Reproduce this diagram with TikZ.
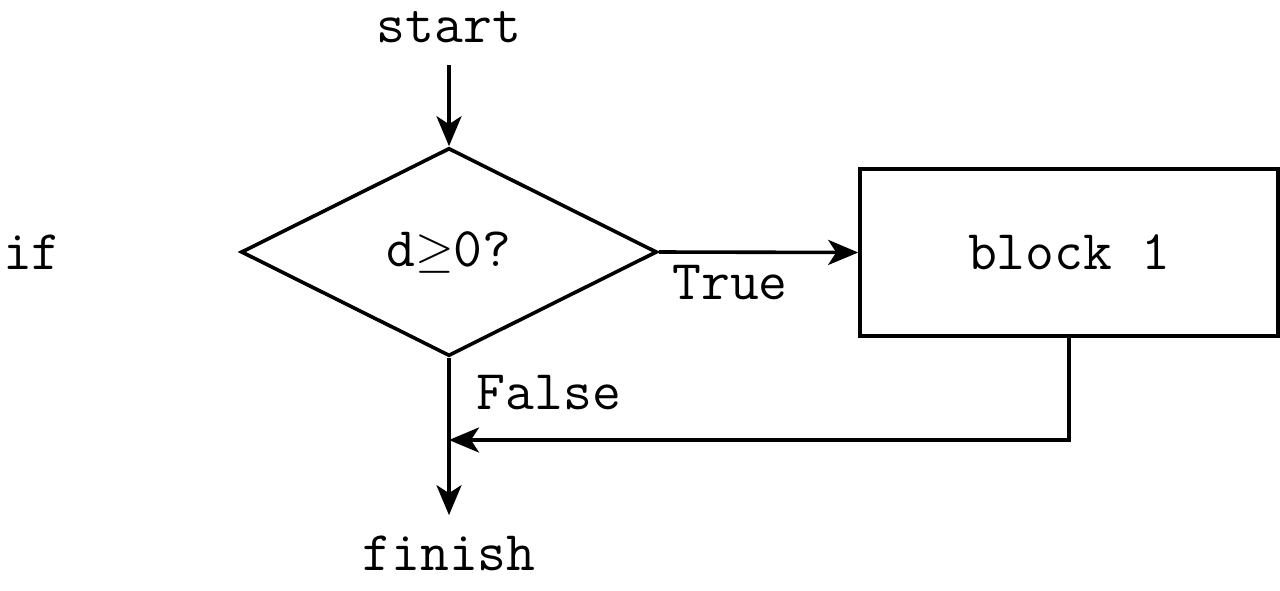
\documentclass[tikz,border=0pt]{standalone}
\usepackage{fontspec}
\usepackage{amsmath}
\usetikzlibrary{shapes.geometric}
\usetikzlibrary{arrows.meta}
\tikzset{
  txt/.style={font=\fontsize{28}{32}\selectfont\ttfamily, inner sep=2pt},
  flow/.style={-{Stealth[length=15pt,width=12.5pt,inset=4pt]}, line width=1.8pt},
  decision/.style={diamond, draw, line width=1.8pt, aspect=2, inner sep=0pt,
    minimum width=208pt, minimum height=104pt, txt},
  block/.style={rectangle, draw, line width=1.8pt,
    minimum width=209pt, minimum height=83.5pt, txt}
}

\begin{document}
\begin{tikzpicture}[x=0.5pt,y=-0.5pt]
\useasboundingbox (0,0) rectangle (1280,590);
\node[txt] (start) at (449,27) {start};
\node[txt] (iflbl) at (32,252) {if};
\node[decision] (cond) at (449,252) {d$\geq$0?};
\node[block] (b1) at (1069,252.5) {block 1};
\node[txt] (truelbl) at (730,283) {True};
\node[txt] (falselbl) at (549,393) {False};
\node[txt] (finish) at (449,553) {finish};
\coordinate (join) at (449,440);
\draw[flow, shorten <=9pt] (start.south) -- (cond.north);
\draw[flow] (cond.east) -- (b1.west);
\draw[flow, shorten >=8pt] (cond.south) -- (finish.north);
\draw[flow] (b1.south) |- (join);
\end{tikzpicture}
\end{document}
